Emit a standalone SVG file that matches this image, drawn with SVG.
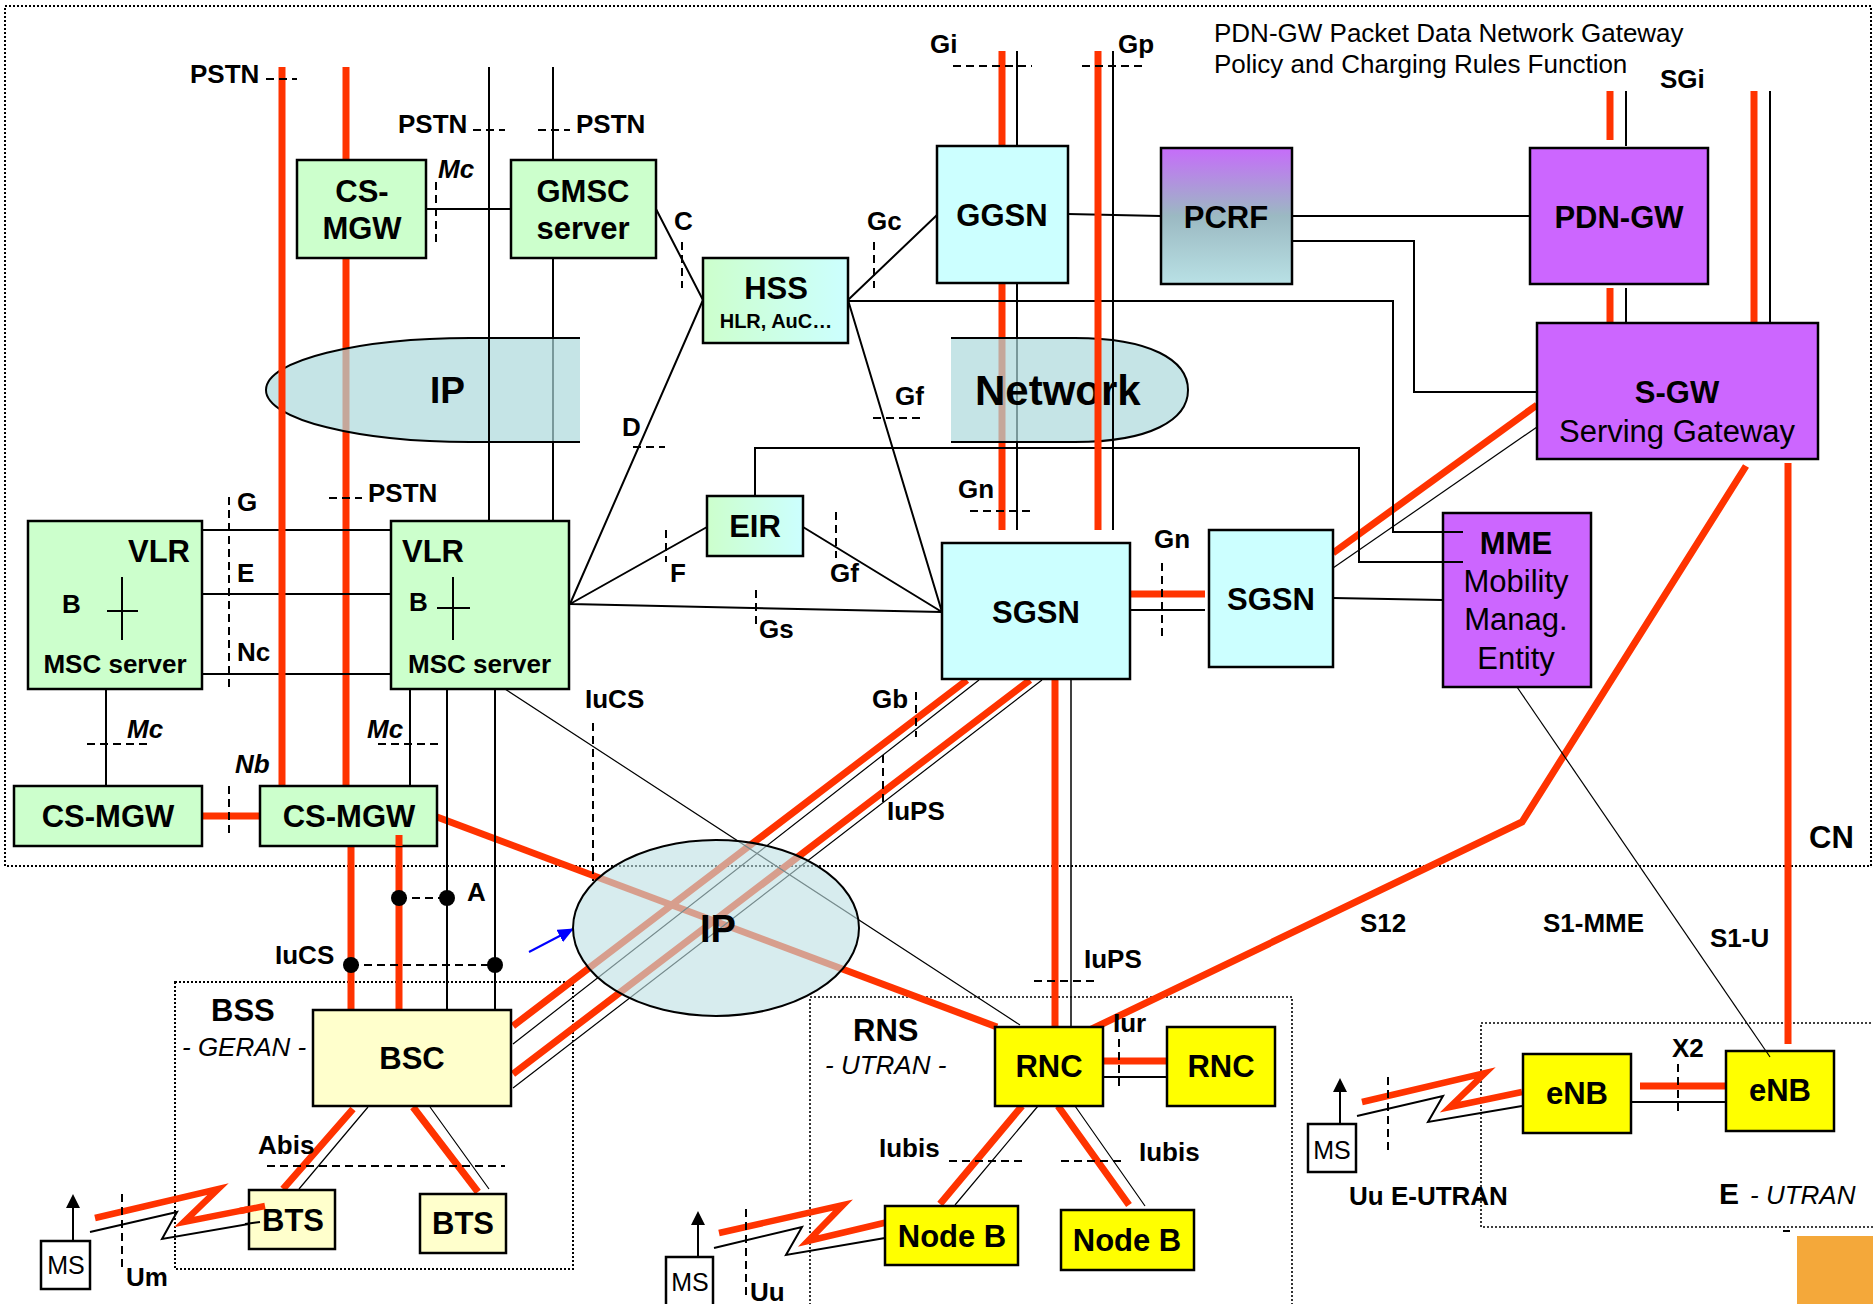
<svg xmlns="http://www.w3.org/2000/svg" width="1873" height="1304" viewBox="0 0 1873 1304">
<defs>
<style>
.r{stroke:#ff3300;stroke-width:7;fill:none}
.rz{stroke:#ff3300;stroke-width:6.5;fill:none;stroke-linejoin:miter}
.k{stroke:#000;stroke-width:2;fill:none}
.kt{stroke:#000;stroke-width:1.2;fill:none}
.d{stroke:#000;stroke-width:2;stroke-dasharray:8 5;fill:none}
.dt{stroke:#000;stroke-width:2;stroke-dasharray:2 2;fill:none}
.box{stroke:#000;stroke-width:2.5}
.g{fill:#ccffcc}.c{fill:#ccffff}.p{fill:#cc66ff}.y{fill:#ffff00}.ly{fill:#ffffcc}.w{fill:#fff}
.cloud{fill:#acd8db;fill-opacity:0.7;stroke:#000;stroke-width:2}
text{font-family:"Liberation Sans",Arial,sans-serif;fill:#000}
.l{font-weight:bold;font-size:26px}
.li{font-weight:bold;font-style:italic;font-size:26px}
.n{font-weight:bold;font-size:31px;text-anchor:middle}
.nr{font-size:31px;text-anchor:middle}
.ms{font-size:25px;text-anchor:middle}
</style>
<linearGradient id="gc" x1="0" y1="0" x2="1" y2="0"><stop offset="0" stop-color="#ccffcc"/><stop offset="1" stop-color="#ccffff"/></linearGradient>
<linearGradient id="pc" x1="0" y1="0" x2="0" y2="1"><stop offset="0" stop-color="#c66cfa"/><stop offset="0.5" stop-color="#9bb9c2"/><stop offset="1" stop-color="#b9e1e5"/></linearGradient>
<marker id="ab" markerWidth="16" markerHeight="14" refX="15" refY="7" orient="auto" markerUnits="userSpaceOnUse"><path d="M0,0 L16,7 L0,14 z" fill="#0000ff"/></marker>
</defs>

<rect width="1873" height="1304" fill="#fff"/>

<g id="domains">
<rect class="dt" x="5" y="6" width="1866" height="860"/>
<rect class="dt" x="175" y="982" width="398" height="287"/>
<rect class="dt" x="810" y="997" width="482" height="330" style="stroke-width:1.6"/>
<rect class="dt" x="1481" y="1023" width="420" height="204" style="stroke-width:1.6"/>
<rect x="1797" y="1236" width="76" height="68" fill="#f4a83a"/>
<line class="k" x1="1783" y1="1231" x2="1790" y2="1231"/>
</g>

<g id="connectors">
<path class="r" d="M346,67V160M346,258V786"/>
<path class="k" d="M553,67V160M553,258V521"/>
<path class="r" d="M1002,51V146M1002,283V530"/>
<path class="k" d="M1017,51V146M1017,283V530"/>
<path class="r" d="M202,816H260"/>
<path class="r" d="M351,846V1010M399,835V1010"/>
<path class="r" d="M437,817L997,1027"/>
<path class="r" d="M967,680L513,1026M1030,680L513,1074"/>
<path class="kt" d="M979,680L513,1044M1042,680L513,1088M505,689L1020,1025"/>
<path class="r" d="M1055,679V1027"/>
<path class="k" style="stroke-width:1.5" d="M1071,679V1027"/>
<path class="r" d="M1130,594H1205"/>
<path class="k" d="M1130,610H1205"/>
<path class="r" d="M1333,553L1537,405"/>
<path class="kt" d="M1333,568L1537,427"/>
<path class="k" d="M1333,598L1443,600"/>
<path class="r" d="M1610,91V140M1610,288V338M1754,91V338"/>
<path class="k" d="M1626,91V146M1626,288V343M1770,91V343"/>
<path class="r" d="M1746,466L1522,822L1073,1038"/>
<path class="r" d="M1788,463V1044"/>
<path class="kt" d="M1517,687L1770,1057"/>
<path class="k" d="M426,209H511M656,209L703,300L570,604M848,300L937,215M848,300L942,612"/>
<path class="k" d="M848,301H1393V532H1463"/>
<path class="k" d="M1068,214L1161,216M1292,216H1530M1292,241H1414V392H1537"/>
<path class="k" d="M755,496V448H1359V562H1463"/>
<path class="k" d="M570,604L707,527M803,527L942,612M570,604L942,612"/>
<path class="k" d="M202,530H391M202,594H391M202,674H391M106,689V786M410,689V786M447,689V1010M495,689V1010"/>
<path class="r" d="M1103,1061H1167M1022,1106L940,1204M1058,1106L1129,1205M353,1109L283,1189M413,1107L478,1192M1640,1086H1726"/>
<path class="k" d="M1103,1077H1167M1631,1102H1726"/>
<path class="kt" d="M1038,1106L955,1205M1075,1106L1145,1206M368,1107L299,1189M430,1107L489,1189"/>
<polyline class="rz" points="95,1218 218,1189 184,1222 265,1206"/>
<polyline class="k" points="90,1232 177,1212 162,1239 260,1222"/>
<polyline class="rz" points="719,1233 843,1205 808,1241 888,1222"/>
<polyline class="k" points="714,1248 802,1227 786,1255 885,1238"/>
<polyline class="rz" points="1362,1102 1485,1073 1450,1107 1522,1092"/>
<polyline class="k" points="1357,1116 1443,1096 1428,1122 1522,1106"/>
<path class="k" d="M73,1241V1206M698,1257V1223M1340,1124V1090"/>
<path d="M66,1208L73,1194L80,1208zM691,1225L698,1211L705,1225zM1333,1092L1340,1078L1347,1092z" fill="#000"/>
<line x1="529" y1="952" x2="573" y2="929" stroke="#0000ff" stroke-width="2" marker-end="url(#ab)"/>
<g fill="#000"><circle cx="399" cy="898" r="8"/><circle cx="447" cy="898" r="8"/><circle cx="351" cy="965" r="8"/><circle cx="495" cy="965" r="8"/></g>
</g>

<g id="clouds">
<path class="cloud" d="M580,338H470C360,338 266,360 266,390C266,420 360,442 470,442H580"/>
<path class="cloud" d="M951,338H1075C1150,338 1188,360 1188,390C1188,420 1150,442 1075,442H951"/>
<ellipse cx="716" cy="928" rx="143" ry="88" fill="#bfe0e4" fill-opacity="0.62" stroke="#000" stroke-width="2"/>
<text x="430" y="403" style="font-weight:bold;font-size:37px">IP</text>
<text x="975" y="405" style="font-weight:bold;font-size:42px">Network</text>
<text x="700" y="942" style="font-weight:bold;font-size:38px">IP</text>
</g>

<g id="connectors-over">
<path class="r" d="M282,67V786M1098,51V530"/>
<path class="k" d="M489,67V521M1113,51V530"/>
</g>

<g id="interfaces">
<path class="d" d="M266,79H297M473,130H505M538,130H570M436,182V245M682,242V288M874,242V288M953,66H1032M1082,66H1145M633,447H665M873,418H922"/>
<path class="d" d="M229,497V689M229,786V833M329,498H362M87,744H152M378,744H442M666,530V562M836,512V558M756,590V625M970,511H1033M1162,563V640"/>
<path class="d" d="M593,723V881M916,692V737M883,755V802M399,898H447M351,965H495M267,1166H505M122,1194V1271M746,1209V1297M1034,981H1098M1119,1039V1087M949,1161H1027M1061,1161H1125M1388,1077V1154M1678,1064V1111"/>
<text class="l" x="190" y="83">PSTN</text>
<text class="l" x="398" y="133">PSTN</text>
<text class="l" x="576" y="133">PSTN</text>
<text class="li" x="438" y="178">Mc</text>
<text class="l" x="674" y="230">C</text>
<text class="l" x="867" y="230">Gc</text>
<text class="l" x="930" y="53">Gi</text>
<text class="l" x="1118" y="53">Gp</text>
<text class="l" x="1660" y="88">SGi</text>
<text class="l" x="622" y="436">D</text>
<text class="l" x="895" y="405">Gf</text>
<text class="l" x="237" y="511">G</text>
<text class="l" x="237" y="582">E</text>
<text class="l" x="237" y="661">Nc</text>
<text class="l" x="368" y="502">PSTN</text>
<text class="li" x="127" y="738">Mc</text>
<text class="li" x="367" y="738">Mc</text>
<text class="li" x="235" y="773">Nb</text>
<text class="l" x="670" y="582">F</text>
<text class="l" x="830" y="582">Gf</text>
<text class="l" x="759" y="638">Gs</text>
<text class="l" x="958" y="498">Gn</text>
<text class="l" x="1154" y="548">Gn</text>
<text class="l" x="585" y="708">IuCS</text>
<text class="l" x="872" y="708">Gb</text>
<text class="l" x="887" y="820">IuPS</text>
<text class="l" x="467" y="901">A</text>
<text class="l" x="275" y="964">IuCS</text>
<text class="l" x="258" y="1154">Abis</text>
<text class="l" x="126" y="1286">Um</text>
<text class="l" x="750" y="1301">Uu</text>
<text class="l" x="1084" y="968">IuPS</text>
<text class="l" x="1113" y="1032">Iur</text>
<text class="l" x="879" y="1157">Iubis</text>
<text class="l" x="1139" y="1161">Iubis</text>
<text class="l" x="1360" y="932">S12</text>
<text class="l" x="1543" y="932">S1-MME</text>
<text class="l" x="1710" y="947">S1-U</text>
<text class="l" x="1349" y="1205">Uu E-UTRAN</text>
<text class="l" x="1672" y="1057">X2</text>
<text x="1809" y="848" style="font-weight:bold;font-size:31px">CN</text>
<text x="211" y="1021" style="font-weight:bold;font-size:31px">BSS</text>
<text x="182" y="1056" style="font-style:italic;font-size:26px">- GERAN -</text>
<text x="853" y="1041" style="font-weight:bold;font-size:31px">RNS</text>
<text x="825" y="1074" style="font-style:italic;font-size:26px">- UTRAN -</text>
<text x="1719" y="1204" style="font-weight:bold;font-size:30px">E</text>
<text x="1750" y="1204" style="font-style:italic;font-size:26px">- UTRAN</text>
<text x="1214" y="42" style="font-size:26px">PDN-GW Packet Data Network Gateway</text>
<text x="1214" y="73" style="font-size:26px">Policy and Charging Rules Function</text>
</g>

<g id="cs-mgw-top"><rect class="box g" x="297" y="160" width="129" height="98"/><text class="n" x="362" y="202">CS-</text><text class="n" x="362" y="239">MGW</text></g>
<g id="gmsc"><rect class="box g" x="511" y="160" width="145" height="98"/><text class="n" x="583" y="202">GMSC</text><text class="n" x="583" y="239">server</text></g>
<g id="hss"><rect class="box" fill="url(#gc)" x="703" y="258" width="145" height="85"/><text class="n" x="776" y="299">HSS</text><text class="n" x="776" y="328" style="font-size:20px">HLR, AuC…</text></g>
<g id="ggsn"><rect class="box c" x="937" y="146" width="131" height="137"/><text class="n" x="1002" y="226">GGSN</text></g>
<g id="pcrf"><rect class="box" fill="url(#pc)" x="1161" y="148" width="131" height="136"/><text class="n" x="1226" y="228">PCRF</text></g>
<g id="pdn-gw"><rect class="box p" x="1530" y="148" width="178" height="136"/><text class="n" x="1619" y="228">PDN-GW</text></g>
<g id="s-gw"><rect class="box p" x="1537" y="323" width="281" height="136"/><text class="n" x="1677" y="403">S-GW</text><text class="nr" x="1677" y="442">Serving Gateway</text></g>
<g id="vlr-msc-left"><rect class="box g" x="28" y="521" width="174" height="168"/><text class="n" x="190" y="562" style="text-anchor:end">VLR</text><text class="l" x="62" y="613">B</text><path class="k" d="M122,577V640M107,611H138"/><text class="n" x="115" y="673" style="font-size:26px">MSC server</text></g>
<g id="vlr-msc-right"><rect class="box g" x="391" y="521" width="178" height="168"/><text class="n" x="402" y="562" style="text-anchor:start">VLR</text><text class="l" x="409" y="611">B</text><path class="k" d="M453,577V640M437,608H470"/><text class="n" x="408" y="673" style="font-size:26px;text-anchor:start">MSC server</text></g>
<g id="eir"><rect class="box" fill="url(#gc)" x="707" y="496" width="96" height="60"/><text class="n" x="755" y="537">EIR</text></g>
<g id="sgsn-1"><rect class="box c" x="942" y="543" width="188" height="136"/><text class="n" x="1036" y="623">SGSN</text></g>
<g id="sgsn-2"><rect class="box c" x="1209" y="530" width="124" height="137"/><text class="n" x="1271" y="610">SGSN</text></g>
<g id="mme"><rect class="box p" x="1443" y="513" width="148" height="174"/><path class="k" d="M1443,532H1463M1443,562H1463"/><text class="n" x="1516" y="554">MME</text><text class="nr" x="1516" y="592">Mobility</text><text class="nr" x="1516" y="630">Manag.</text><text class="nr" x="1516" y="669">Entity</text></g>
<g id="cs-mgw-left"><rect class="box g" x="14" y="786" width="188" height="60"/><text class="n" x="108" y="827">CS-MGW</text></g>
<g id="cs-mgw-mid"><rect class="box g" x="260" y="786" width="177" height="60"/><text class="n" x="349" y="827">CS-MGW</text><path class="r" d="M399,835V846"/></g>
<g id="bsc"><rect class="box ly" x="313" y="1010" width="198" height="96"/><text class="n" x="412" y="1069">BSC</text></g>
<g id="bts-1"><rect class="box ly" x="249" y="1190" width="86" height="59"/><text class="n" x="293" y="1231">BTS</text><path class="rz" d="M240,1211L265,1206"/><path class="k" d="M245,1224L260,1222"/></g>
<g id="bts-2"><rect class="box ly" x="420" y="1194" width="86" height="59"/><text class="n" x="463" y="1234">BTS</text></g>
<g id="ms-1"><rect class="box w" x="41" y="1241" width="49" height="48"/><text class="ms" x="66" y="1274">MS</text></g>
<g id="rnc-1"><rect class="box y" x="995" y="1027" width="108" height="79"/><text class="n" x="1049" y="1077">RNC</text></g>
<g id="rnc-2"><rect class="box y" x="1167" y="1027" width="108" height="79"/><text class="n" x="1221" y="1077">RNC</text></g>
<g id="nodeb-1"><rect class="box y" x="885" y="1206" width="133" height="59"/><text class="n" x="952" y="1247">Node B</text></g>
<g id="nodeb-2"><rect class="box y" x="1061" y="1210" width="133" height="60"/><text class="n" x="1127" y="1251">Node B</text></g>
<g id="ms-2"><rect class="box w" x="666" y="1257" width="47" height="60"/><text class="ms" x="690" y="1291">MS</text></g>
<g id="ms-3"><rect class="box w" x="1308" y="1124" width="48" height="48"/><text class="ms" x="1332" y="1159">MS</text></g>
<g id="enb-1"><rect class="box y" x="1523" y="1054" width="108" height="79"/><text class="n" x="1577" y="1104">eNB</text></g>
<g id="enb-2"><rect class="box y" x="1726" y="1051" width="108" height="80"/><text class="n" x="1780" y="1101">eNB</text><path class="kt" d="M1766,1051L1770,1057"/></g>
</svg>
